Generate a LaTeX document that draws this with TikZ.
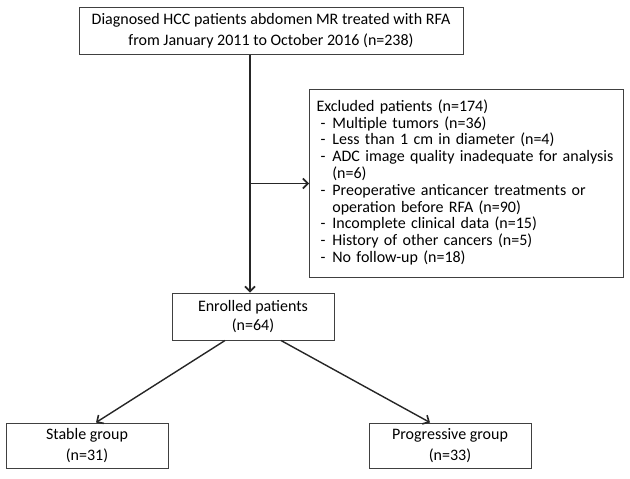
\documentclass[tikz,border=0pt]{standalone}
\usepackage{fontspec}
\setmainfont{Carlito}
\usetikzlibrary{arrows.meta,calc}
\begin{document}
\begin{tikzpicture}[x=1pt,y=-1pt,
  box/.style={draw=black!75, line width=1pt, inner sep=0pt, align=center,
    font=\fontsize{16}{20.5}\selectfont},
  conn/.style={line width=1.4pt, draw=black!85,
    -{Straight Barb[length=5pt,width=10pt,line width=1.6pt]}}]
\useasboundingbox (0,0) rectangle (630,479);
\node[box, minimum width=384pt, minimum height=47pt] (top) at (271,30.5)
  {Diagnosed HCC patients abdomen MR treated with RFA\\from January 2011 to October 2016 (n=238)};
\node[box, anchor=north west, minimum width=312pt, minimum height=188pt,
  text width=300pt, inner xsep=7pt, align=left,
  font=\fontsize{16}{16.8}\selectfont] (exc) at (309,89)
  {\begin{tabular}{@{}l@{\hspace{7pt}}l@{}}
   \multicolumn{2}{@{}l@{}}{Excluded patients (n=174)}\\
   \hspace{4pt}- & Multiple tumors (n=36)\\
   \hspace{4pt}- & Less than 1 cm in diameter (n=4)\\
   \hspace{4pt}- & ADC image quality inadequate for analysis\\
    & (n=6)\\
   \hspace{4pt}- & Preoperative anticancer treatments or\\
    & operation before RFA (n=90)\\
   \hspace{4pt}- & Incomplete clinical data (n=15)\\
   \hspace{4pt}- & History of other cancers (n=5)\\
   \hspace{4pt}- & No follow-up (n=18)
   \end{tabular}};
\node[box, minimum width=162pt, minimum height=47pt] (enr) at (253,316.5)
  {\raisebox{-2pt}{Enrolled patients}\\(n=64)};
\node[box, minimum width=162pt, minimum height=45pt] (stable) at (87,445.5)
  {Stable group\\(n=31)};
\node[box, minimum width=162pt, minimum height=45pt] (prog) at (450,445.5)
  {Progressive group\\(n=33)};
\coordinate (vx) at ($(enr.north)+(-3,0)$);
\draw[conn] (top.south -| vx) -- (vx);
\draw[conn] (vx |- exc.west) -- (exc.west);
\draw[conn] ($(enr.south)+(-28,0)$) -- ($(stable.north)+(9,0)$);
\draw[conn] ($(enr.south)+(28,0)$) -- ($(prog.north)+(-20,0)$);
\end{tikzpicture}
\end{document}
